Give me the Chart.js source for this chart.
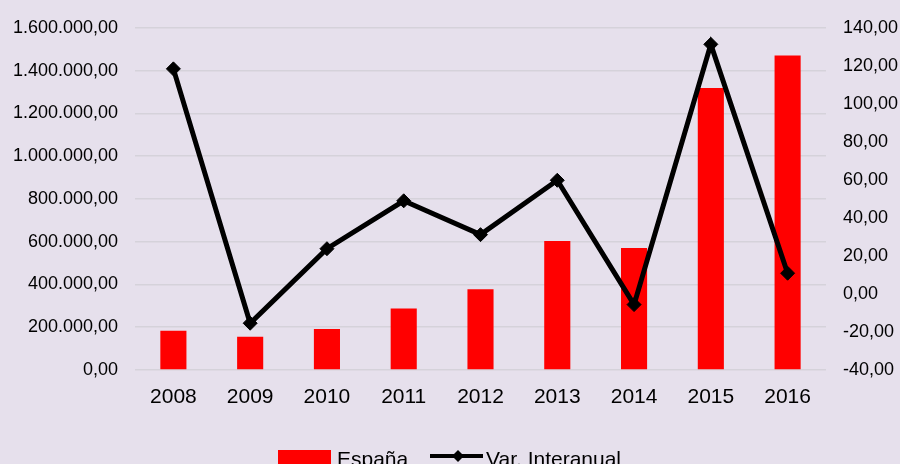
<!DOCTYPE html>
<html>
<head>
<meta charset="utf-8">
<script src="https://cdn.jsdelivr.net/npm/chart.js@4/dist/chart.umd.min.js"></script>
<style>
  html, body { margin: 0; padding: 0; background: #e6e0ec; }
  #wrap { width: 900px; height: 464px; }
</style>
</head>
<body>
<div id="wrap"><canvas id="chart-div" width="900" height="464"></canvas></div>
<script>
// Data
const years = ['2008', '2009', '2010', '2011', '2012', '2013', '2014', '2015', '2016'];
const espana = [183000, 155000, 192000, 287000, 377000, 603000, 571000, 1318000, 1471000];
const varInteranual = [118.4, -15.4, 23.8, 49.0, 31.2, 59.8, -5.6, 131.3, 10.9];

const ctx = document.getElementById('chart-div').getContext('2d');
const FONT = '"Liberation Sans", Arial, sans-serif';

// number format like 1.600.000,00
function formatNumber(v) {
    let neg = v < 0;
    let parts = Math.abs(v).toFixed(2).split('.');
    let int = parts[0].replace(/\B(?=(\d{3})+(?!\d))/g, '.');
    return (neg ? '-' : '') + int + ',' + parts[1];
}

// legend drawn at the bottom, like the original
const bottomLegend = {
    id: 'bottomLegend',
    afterDraw(chart) {
        const c = chart.ctx;
        c.save();
        c.font = '21px ' + FONT;
        c.textBaseline = 'alphabetic';

        c.fillStyle = '#ff0000';
        c.fillRect(278, 450, 53, 14);
        c.fillStyle = '#000';
        c.fillText('España', 337, 466);

        c.strokeStyle = '#000';
        c.lineWidth = 4;
        c.beginPath();
        c.moveTo(430, 456);
        c.lineTo(483, 456);
        c.stroke();
        c.beginPath();
        c.moveTo(458, 450);
        c.lineTo(464, 456);
        c.lineTo(458, 462);
        c.lineTo(452, 456);
        c.closePath();
        c.fill();
        c.fillText('Var. Interanual', 486, 466);
        c.restore();
    }
};

let chart = new Chart(ctx, {
    type: 'bar',
    data: {
        labels: years,
        datasets: [{
            type: 'line',
            label: 'Var. Interanual',
            data: varInteranual,
            yAxisID: 'y1',
            borderColor: '#000',
            backgroundColor: '#000',
            borderWidth: 5,
            pointStyle: 'rectRot',
            pointRadius: 7,
            pointBorderWidth: 1,
            tension: 0,
            order: 0
        }, {
            label: 'España',
            data: espana,
            yAxisID: 'y',
            backgroundColor: '#ff0000',
            categoryPercentage: 1,
            barPercentage: 0.34,
            order: 1
        }]
    },
    options: {
        responsive: false,
        animation: false,
        layout: { padding: { top: 24, left: 0, right: 0, bottom: 0 } },
        plugins: {
            legend: { display: false },
            tooltip: { enabled: false }
        },
        scales: {
            x: {
                grid: { display: false },
                border: { display: false },
                ticks: { color: '#000', font: { family: FONT, size: 21 }, padding: 7, maxRotation: 0 },
                afterFit(scale) { scale.height = 94; }
            },
            y: {
                position: 'left',
                min: 0,
                max: 1600000,
                grid: { color: '#d5d2da', lineWidth: 1.5, drawTicks: false },
                border: { display: false },
                ticks: {
                    stepSize: 200000,
                    color: '#000',
                    font: { family: FONT, size: 18 },
                    padding: 17,
                    callback: v => formatNumber(v)
                },
                afterFit(scale) { scale.width = 135; }
            },
            y1: {
                position: 'right',
                min: -40,
                max: 140,
                grid: { display: false, drawTicks: false },
                border: { display: false },
                ticks: {
                    stepSize: 20,
                    color: '#000',
                    font: { family: FONT, size: 18 },
                    padding: 17,
                    callback: v => formatNumber(v)
                },
                afterFit(scale) { scale.width = 74; }
            }
        }
    },
    plugins: [bottomLegend]
});
</script>
</body>
</html>
